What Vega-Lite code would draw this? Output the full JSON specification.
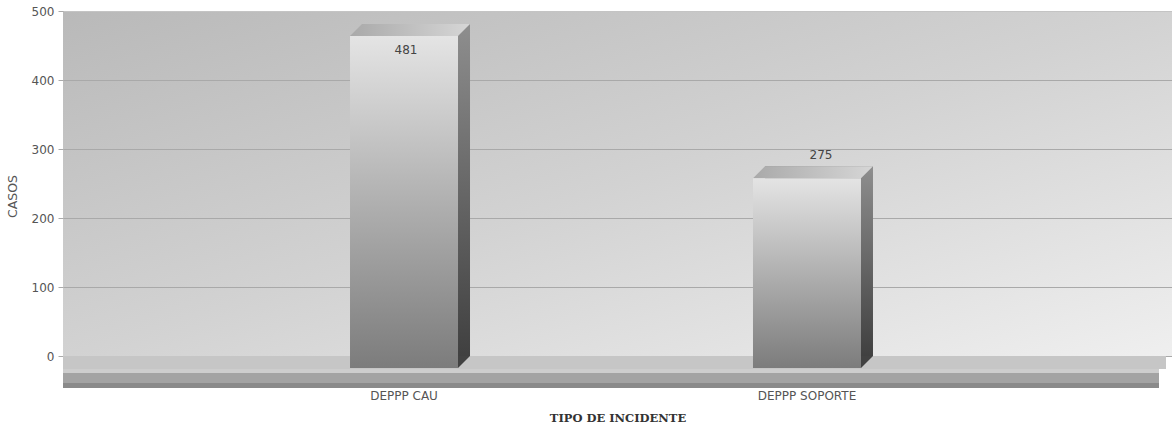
{
  "$schema": "https://vega.github.io/schema/vega-lite/v6.json",
  "autosize": {"type": "none"},
  "padding": {"left": 63, "top": 11, "right": 0, "bottom": 72},
  "width": 1109,
  "height": 345,
  "background": "#ffffff",
  "config": {
    "view": {
      "stroke": null,
      "fill": {"gradient": "linear", "x1": 0, "y1": 0, "x2": 1, "y2": 1,
        "stops": [{"offset": 0, "color": "#b9b9b9"}, {"offset": 0.5, "color": "#d2d2d2"}, {"offset": 1, "color": "#efefef"}]}
    },
    "font": "DejaVu Sans"
  },
  "data": {"values": [
    {"tipo": "DEPPP CAU", "casos": 481},
    {"tipo": "DEPPP SOPORTE", "casos": 275}
  ]},
  "layer": [
    {
      "mark": {"type": "rule", "strokeWidth": 13, "yOffset": 6.5, "xOffset": -6, "color": "#c6c6c6"},
      "encoding": {"y": {"datum": 0, "type": "quantitative"}}
    },
    {
      "mark": {"type": "bar",
        "fill": {"gradient": "linear", "x1": 0, "y1": 0, "x2": 0, "y2": 1,
          "stops": [{"offset": 0, "color": "#8e8e8e"}, {"offset": 1, "color": "#404040"}]}},
      "encoding": {
        "x": {
          "field": "tipo", "type": "nominal", "sort": null,
          "scale": {"paddingInner": 0.732, "paddingOuter": 0.742},
          "axis": {
            "title": "TIPO DE INCIDENTE", "labelAngle": 0, "domain": false, "ticks": false,
            "labelPadding": 34, "labelOffset": -12, "labelFontSize": 12, "labelColor": "#555555",
            "titleFont": "DejaVu Serif", "titleFontWeight": "bold", "titleFontSize": 11.5, "titleColor": "#333333",
            "titlePadding": 11
          }
        },
        "y": {
          "field": "casos", "type": "quantitative",
          "scale": {"domain": [0, 500]},
          "axis": {
            "title": "CASOS", "values": [0, 100, 200, 300, 400, 500],
            "domain": false, "tickSize": 5, "tickColor": "#aaaaaa", "labelPadding": 4,
            "labelFontSize": 12, "labelColor": "#555555",
            "titleFontWeight": "normal", "titleFontSize": 12.5, "titleColor": "#555555", "titlePadding": 12,
            "titleY": 185,
            "grid": true, "gridWidth": 1,
            "gridColor": {"condition": {"test": "datum.value >= 500", "value": "#c4c4c4"}, "value": "#a9a9a9"}
          }
        }
      }
    },
    {
      "mark": {"type": "point", "shape": "M -54 0 L 54 0 L 42 12 L -66 12 Z", "size": 4, "filled": true, "opacity": 1, "strokeWidth": 0,
        "fill": {"gradient": "linear", "x1": 0, "y1": 0, "x2": 1, "y2": 0,
          "stops": [{"offset": 0, "color": "#a9a9a9"}, {"offset": 1, "color": "#d6d6d6"}]}},
      "encoding": {
        "x": {"field": "tipo", "type": "nominal", "sort": null},
        "y": {"field": "casos", "type": "quantitative"}
      }
    },
    {
      "mark": {"type": "point", "shape": "M 54 0 L 42 12 L 42 0 Z", "size": 4, "filled": true, "opacity": 1, "strokeWidth": 0, "fill": "#424242"},
      "encoding": {
        "x": {"field": "tipo", "type": "nominal", "sort": null},
        "y": {"datum": 0, "type": "quantitative"}
      }
    },
    {
      "mark": {"type": "bar", "xOffset": -12, "yOffset": 12,
        "fill": {"gradient": "linear", "x1": 0, "y1": 0, "x2": 0, "y2": 1,
          "stops": [{"offset": 0, "color": "#e4e4e4"}, {"offset": 1, "color": "#7c7c7c"}]}},
      "encoding": {
        "x": {"field": "tipo", "type": "nominal", "sort": null},
        "y": {"field": "casos", "type": "quantitative"}
      }
    },
    {
      "mark": {"type": "rule", "strokeWidth": 19, "yOffset": 22.5, "xOffset": -13, "color": "#a3a3a3"},
      "encoding": {"y": {"datum": 0, "type": "quantitative"}}
    },
    {
      "mark": {"type": "rule", "strokeWidth": 4, "yOffset": 15, "xOffset": -13, "color": "#cdcdcd"},
      "encoding": {"y": {"datum": 0, "type": "quantitative"}}
    },
    {
      "mark": {"type": "rule", "strokeWidth": 5, "yOffset": 29.5, "xOffset": -13, "color": "#8a8a8a"},
      "encoding": {"y": {"datum": 0, "type": "quantitative"}}
    },
    {
      "transform": [{"filter": "datum.casos > 450"}],
      "mark": {"type": "text", "xOffset": -10, "dy": 26, "baseline": "middle", "fontSize": 12, "color": "#444444"},
      "encoding": {
        "x": {"field": "tipo", "type": "nominal", "sort": null},
        "y": {"field": "casos", "type": "quantitative"},
        "text": {"field": "casos", "type": "quantitative"}
      }
    },
    {
      "transform": [{"filter": "datum.casos <= 450"}],
      "mark": {"type": "text", "xOffset": 2, "dy": -11, "baseline": "middle", "fontSize": 12, "color": "#444444"},
      "encoding": {
        "x": {"field": "tipo", "type": "nominal", "sort": null},
        "y": {"field": "casos", "type": "quantitative"},
        "text": {"field": "casos", "type": "quantitative"}
      }
    }
  ]
}
